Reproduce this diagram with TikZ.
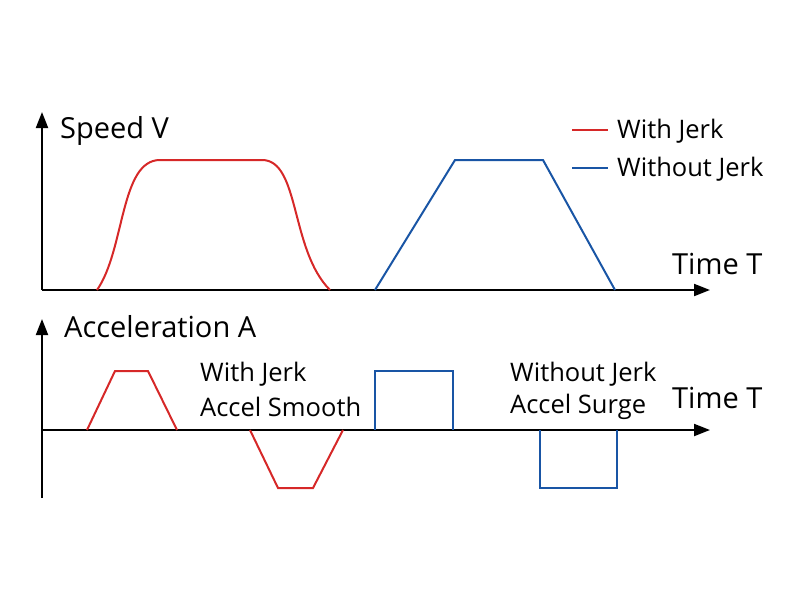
\documentclass[tikz,border=0pt]{standalone}
\usepackage{fontspec}
\setmainfont{Open Sans}
\usetikzlibrary{arrows.meta}
\definecolor{jr}{RGB}{214,40,40}
\definecolor{jb}{RGB}{25,85,165}
\begin{document}
\begin{tikzpicture}[x=1pt,y=-1pt,
 ax/.style={line width=2pt,-{Triangle[length=16pt,width=12pt]}},
 rc/.style={jr,line width=2pt},
 bc/.style={jb,line width=2pt},
 lb/.style={anchor=west,inner sep=0pt,font=\fontsize{29}{32}\selectfont},
 sl/.style={anchor=west,inner sep=0pt,font=\fontsize{25.5}{28}\selectfont}]
\useasboundingbox (0,0) rectangle (800,600);
% top axes
\coordinate (o1) at (42,290);
\coordinate (y1) at (42,112);
\coordinate (x1) at (710,290);
\draw[ax] (o1) -- (y1);
\draw[ax] (o1) -- (x1);
\node[lb] (sv) at (60,131) {Speed V};
\node[lb] (t1) at (672,264) {Time T};
% red speed
\draw[rc] (97,290) .. controls (125,250) and (120,160) .. (160,160) -- (262,160)
  .. controls (300,160) and (290,250) .. (330,290);
% blue speed
\draw[bc] (375,290) -- (455,160) -- (543,160) -- (615,290);
% legend
\coordinate (l1a) at (572,130); \coordinate (l1b) at (608,130);
\coordinate (l2a) at (572,168); \coordinate (l2b) at (608,168);
\draw[rc] (l1a) -- (l1b);
\draw[bc] (l2a) -- (l2b);
\node[sl] (wj) at (617,131) {With Jerk};
\node[sl] (wo) at (617,169) {Without Jerk};
% bottom axes
\coordinate (o2) at (42,498);
\coordinate (y2) at (42,319);
\coordinate (a0) at (42,430);
\coordinate (x2) at (710,430);
\draw[ax] (o2) -- (y2);
\draw[ax] (a0) -- (x2);
\node[lb] (aa) at (64,327) {Acceleration A};
\node[lb] (t2) at (672,398) {Time T};
\draw[rc] (87,430) -- (115,371) -- (148,371) -- (177,430);
\draw[rc] (250,430) -- (278,488) -- (313,488) -- (343,430);
\draw[bc] (375,430) -- (375,371) -- (453,371) -- (453,430);
\draw[bc] (540,430) -- (540,488) -- (617,488) -- (617,430);
\node[sl] (s1) at (200,374) {With Jerk};
\node[sl] (s2) at (200,407) {Accel Smooth};
\node[sl] (s3) at (510,374) {Without Jerk};
\node[sl] (s4) at (510,407) {Accel Surge};
\end{tikzpicture}
\end{document}
